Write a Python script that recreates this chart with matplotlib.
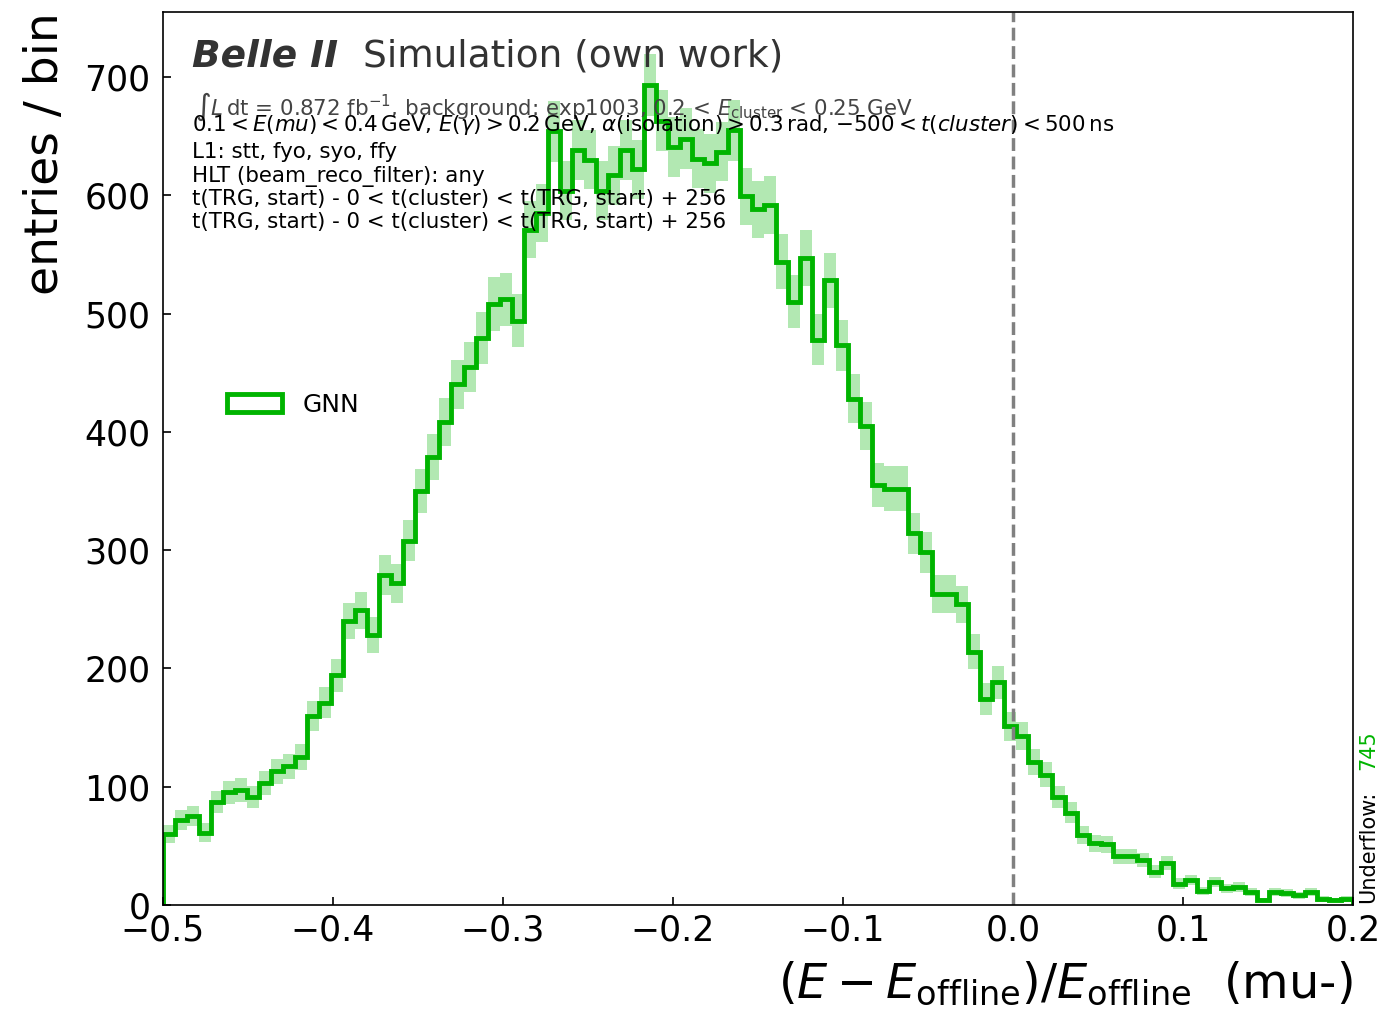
import numpy as np
import matplotlib
matplotlib.use('Agg')
import matplotlib.pyplot as plt
from matplotlib.patches import Patch

# histogram of (E - E_offline)/E_offline for the GNN reconstruction, 99 bins in [-0.5, 0.2]
bin_edges = np.linspace(-0.5, 0.2, 100)

gnn_counts = [60, 72, 75, 61, 87, 95, 97, 91, 103, 113, 117, 125, 160, 171, 194, 240, 249,
              228, 279, 272, 308, 350, 379, 408, 440, 455, 479, 508, 512, 494,
              571, 585, 654, 604, 638, 630, 604, 617, 638, 622, 693, 663, 641,
              648, 631, 627, 637, 655, 599, 588, 592, 544, 510, 547, 478, 528, 473, 428, 405,
              355, 352, 352, 314, 298, 263, 263, 254, 214, 174, 188, 151, 143, 121,
              110, 91, 78, 59, 52, 51, 41, 41, 38, 28, 35, 18, 21, 12, 19, 14, 15,
              11, 4, 11, 10, 8, 11, 5, 4, 5]
underflow = 745

x_ticks = [-0.5, -0.4, -0.3, -0.2, -0.1, 0.0, 0.1, 0.2]
y_ticks = [0, 100, 200, 300, 400, 500, 600, 700]

lumi_line = (r'$\int L\,\mathrm{dt}$ = 0.872 fb$^{-1}$, background: exp1003, '
             r'0.2 < $E_{\mathrm{cluster}}$ < 0.25 GeV')
info_lines = [r'$0.1 < E(mu) < 0.4\,\mathrm{GeV}$, $E(\gamma) > 0.2\,\mathrm{GeV}$, '
              r'$\alpha(\mathrm{isolation}) > 0.3\,\mathrm{rad}$, $-500 < t(cluster) < 500\,\mathrm{ns}$',
              'L1: stt, fyo, syo, ffy',
              'HLT (beam_reco_filter): any',
              't(TRG, start) - 0 < t(cluster) < t(TRG, start) + 256',
              't(TRG, start) - 0 < t(cluster) < t(TRG, start) + 256']

green = '#00b400'

counts = np.array(gnn_counts, dtype=float)
errors = np.sqrt(counts)
centers = 0.5*(bin_edges[1:]+bin_edges[:-1])
widths = np.diff(bin_edges)

fig = plt.figure(figsize=(13.84, 10.11), dpi=100)
ax = fig.add_axes([163/1384, 1-904.8/1011, 1190/1384, 892.8/1011])

#statistical uncertainty boxes
ax.bar(centers, 2*errors, width=widths, bottom=counts-errors,
       color=green, alpha=0.3, linewidth=0)

#histogram outline
ax.stairs(counts, bin_edges, color=green, linewidth=3.5)

ax.axvline(0.0, color='0.5', linestyle='--', linewidth=2.5)

ax.set_xlim(-0.5, 0.2)
ax.set_ylim(0, 755)
ax.set_xticks(x_ticks)
ax.set_yticks(y_ticks)
ax.tick_params(direction='in', length=6, width=1.2, labelsize=25)
ax.tick_params(axis='x', pad=6.5)
ax.tick_params(axis='y', pad=9)
for spine in ax.spines.values():
    spine.set_linewidth(1.2)

ax.set_xlabel(r'$(E - E_{\mathrm{offline}})/E_{\mathrm{offline}}$  (mu-)', fontsize=34.5,
              loc='right', labelpad=9)
ax.set_ylabel('entries / bin', fontsize=34, loc='top', labelpad=12)

#legend entry drawn as an open box like the step outline
gnn_handle = Patch(facecolor='white', edgecolor=green, linewidth=3.5, label='GNN')
ax.legend(handles=[gnn_handle], loc='center left', bbox_to_anchor=(0.035, 0.56),
          frameon=False, fontsize=18, handlelength=2.2)

#experiment label
ax.text(0.0244, 0.9395, 'Belle II', transform=ax.transAxes, fontsize=27,
        fontweight='bold', fontstyle='italic', color='#333333', va='baseline')
ax.text(0.168, 0.9395, 'Simulation (own work)', transform=ax.transAxes, fontsize=27,
        color='#333333', va='baseline')

ax.text(0.0265, 0.8848, lumi_line, transform=ax.transAxes,
        fontsize=15.4, color='#444444', va='baseline')

y_info = [0.8667, 0.8361, 0.8099, 0.7838, 0.7577]
for y, line in zip(y_info, info_lines):
    ax.text(0.0244, y, line, transform=ax.transAxes, fontsize=15.4, va='baseline')

#underflow count beside the right spine
fig.text(1368/1384, 1-903/1011, 'Underflow:', rotation=90, fontsize=15,
         ha='center', va='bottom')
fig.text(1368/1384, 1-770/1011, str(underflow), rotation=90, fontsize=15,
         ha='center', va='bottom', color=green)

fig.savefig('out.png', dpi=100)
